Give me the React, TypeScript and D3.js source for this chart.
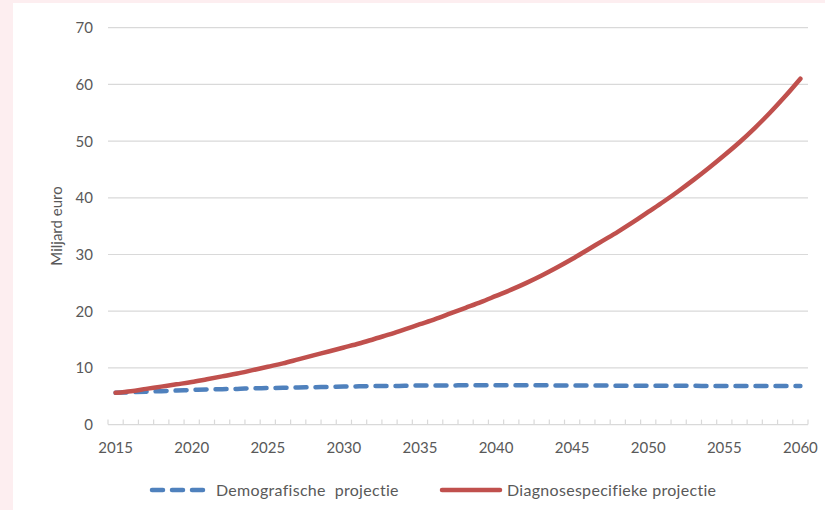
import React from "react";
import * as d3 from "d3";

// Years on the category axis
const years: number[] = d3.range(2015, 2061);

// Demographic projection (billion euro)
const demografisch: number[] = [
  5.6, 5.7, 5.8, 5.9, 6.0, 6.1, 6.2, 6.25, 6.3, 6.4,
  6.45, 6.5, 6.55, 6.6, 6.65, 6.7, 6.75, 6.8, 6.8, 6.85,
  6.9, 6.9, 6.9, 6.95, 6.95, 6.95, 6.95, 6.95, 6.95, 6.9,
  6.9, 6.9, 6.9, 6.85, 6.85, 6.85, 6.85, 6.85, 6.85, 6.8,
  6.8, 6.8, 6.8, 6.8, 6.8, 6.8,
];

// Diagnosis-specific projection (billion euro)
const diagnosespecifiek: number[] = [
  5.6, 5.9, 6.3, 6.7, 7.1, 7.5, 8.0, 8.5, 9.0, 9.6,
  10.2, 10.8, 11.5, 12.2, 12.9, 13.6, 14.3, 15.1, 15.9, 16.8,
  17.7, 18.6, 19.6, 20.6, 21.6, 22.7, 23.8, 25.0, 26.3, 27.7,
  29.2, 30.8, 32.4, 34.0, 35.7, 37.5, 39.3, 41.2, 43.2, 45.3,
  47.5, 49.8, 52.3, 55.0, 57.9, 61.0,
];

const yTicks: number[] = [0, 10, 20, 30, 40, 50, 60, 70];
const xLabelYears: number[] = [2015, 2020, 2025, 2030, 2035, 2040, 2045, 2050, 2055, 2060];

const seriesNames = ["Demografische  projectie", "Diagnosespecifieke projectie"];
const seriesColors = ["#4F81BD", "#C0504D"];

const W = 825;
const H = 510;
const FONT = "Lato, 'Open Sans', sans-serif";
const TEXT = "#595959";

export default function App() {
  const left = 108;
  const right = 808;
  const top = 27.7;
  const bottom = 424.6;

  const x = d3
    .scaleBand<number>()
    .domain(years)
    .range([left, right])
    .paddingInner(0)
    .paddingOuter(0);
  const cx = (yr: number) => (x(yr) as number) + x.bandwidth() / 2;
  const y = d3.scaleLinear().domain([0, 70]).range([bottom, top]);

  const line = d3
    .line<number>()
    .x((_, i) => cx(years[i]))
    .y((d) => y(d))
    .curve(d3.curveMonotoneX);

  const boundaries = years.map((yr) => x(yr) as number).concat([right]);

  return (
    <svg
      width={W}
      height={H}
      style={{ position: "absolute", left: 0, top: 0, display: "block" }}
      fontFamily={FONT}
    >
      <rect x={0} y={0} width={W} height={H} fill="#FDEEF0" />
      <rect x={13} y={3} width={W - 13} height={H - 3} fill="#FFFFFF" />

      {/* horizontal gridlines */}
      {yTicks.slice(1).map((t) => (
        <line
          key={t}
          x1={left}
          x2={right}
          y1={y(t)}
          y2={y(t)}
          stroke="#D9D9D9"
          strokeWidth={1.2}
        />
      ))}

      {/* category axis */}
      <line x1={left} x2={right} y1={bottom} y2={bottom} stroke="#D9D9D9" strokeWidth={1.4} />
      {boundaries.map((bx, i) => (
        <line
          key={i}
          x1={bx}
          x2={bx}
          y1={bottom}
          y2={bottom - 5}
          stroke="#D9D9D9"
          strokeWidth={1.2}
        />
      ))}

      {/* y tick labels */}
      {yTicks.map((t) => (
        <text
          key={t}
          x={93}
          y={y(t)}
          dy="0.36em"
          textAnchor="end"
          fontSize={15}
          fill={TEXT}
        >
          {t}
        </text>
      ))}

      {/* x tick labels */}
      {xLabelYears.map((yr) => (
        <text
          key={yr}
          x={cx(yr)}
          y={453}
          textAnchor="middle"
          fontSize={15}
          fill={TEXT}
        >
          {yr}
        </text>
      ))}

      {/* y axis title */}
      <text
        transform={`translate(62,226) rotate(-90)`}
        textAnchor="middle"
        fontSize={15}
        fill={TEXT}
      >
        Miljard euro
      </text>

      {/* series */}
      <path
        d={line(demografisch) ?? ""}
        fill="none"
        stroke={seriesColors[0]}
        strokeWidth={4.5}
        strokeDasharray="11 9"
        strokeLinecap="round"
      />
      <path
        d={line(diagnosespecifiek) ?? ""}
        fill="none"
        stroke={seriesColors[1]}
        strokeWidth={4.5}
        strokeLinecap="round"
        strokeLinejoin="round"
      />

      {/* legend */}
      <line
        x1={152}
        x2={205}
        y1={490}
        y2={490}
        stroke={seriesColors[0]}
        strokeWidth={4.5}
        strokeDasharray="11 9"
        strokeLinecap="round"
      />
      <text
        x={216}
        y={490}
        dy="0.35em"
        fontSize={16}
        letterSpacing={0.3}
        fill={TEXT}
        style={{ whiteSpace: "pre" }}
      >
        {seriesNames[0]}
      </text>
      <line
        x1={442}
        x2={500}
        y1={490}
        y2={490}
        stroke={seriesColors[1]}
        strokeWidth={4.5}
        strokeLinecap="round"
      />
      <text x={507} y={490} dy="0.35em" fontSize={16} letterSpacing={0.3} fill={TEXT}>
        {seriesNames[1]}
      </text>
    </svg>
  );
}
